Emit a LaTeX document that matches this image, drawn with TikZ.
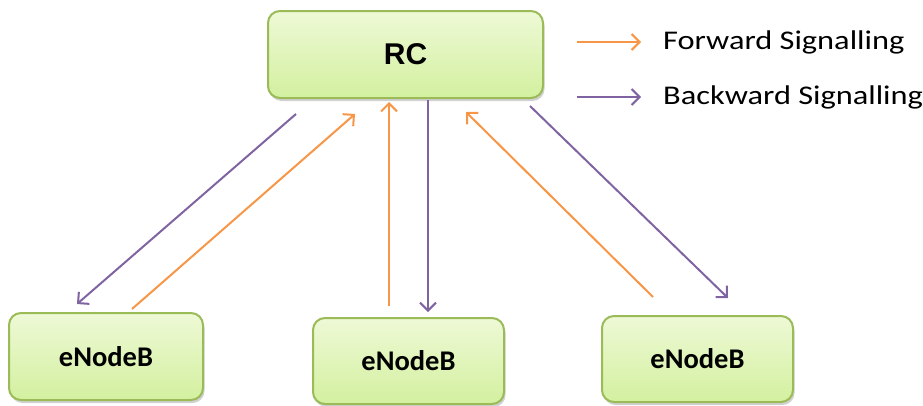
\documentclass[tikz,border=0pt]{standalone}
\usepackage{fontspec}
\setmainfont{Carlito}
\newfontfamily\arialfont{Liberation Sans}
\newfontfamily\legfont{Carlito}[FakeStretch=1.2]
\usetikzlibrary{arrows.meta,shadows}
\definecolor{fwd}{HTML}{F79646}
\definecolor{bwd}{HTML}{8064A2}
\definecolor{boxline}{HTML}{9BBB59}
\definecolor{boxtop}{HTML}{EEF9D6}
\definecolor{boxbot}{HTML}{D3F09F}
\tikzset{
  gbox/.style={rectangle, rounded corners=12pt, draw=boxline, line width=2pt,
    top color=boxtop, bottom color=boxbot, inner sep=0pt,
    drop shadow={shadow xshift=1.5pt, shadow yshift=-3pt, opacity=0.3, fill=black!60}},
  fsig/.style={draw=fwd, line width=2pt, -{Straight Barb[length=8pt,width=16pt,line width=2pt]}},
  bsig/.style={draw=bwd, line width=2pt, -{Straight Barb[length=8pt,width=16pt,line width=2pt]}},
  legtext/.style={anchor=west, inner sep=0pt, font=\legfont\fontsize{27}{32}\selectfont},
  boxtext/.style={font=\bfseries\fontsize{28.5}{32}\selectfont},
}
\begin{document}
\begin{tikzpicture}[x=1pt,y=-1pt]
\useasboundingbox (0,0) rectangle (923,405);
\node[gbox, minimum width=275pt, minimum height=87pt] (rc) at (405.5,54.5)
  {\arialfont\bfseries\fontsize{30}{34}\selectfont RC};
\node[gbox, boxtext, minimum width=194pt, minimum height=87pt] (enbL) at (106,356.5) {eNodeB};
\node[gbox, boxtext, minimum width=191pt, minimum height=86pt] (enbM) at (408.5,361) {eNodeB};
\node[gbox, boxtext, minimum width=191pt, minimum height=86pt] (enbR) at (697.5,359) {eNodeB};
% connector end points
\coordinate (b1s) at (296,114);  \coordinate (b1e) at (77,304);
\coordinate (f1s) at (132,309);  \coordinate (f1e) at (355,114);
\coordinate (f2s) at (389,306);  \coordinate (f2e) at (389,102);
\coordinate (b2s) at (428,100);  \coordinate (b2e) at (428,312);
\coordinate (f3s) at (653,297);  \coordinate (f3e) at (466,112);
\coordinate (b3s) at (530,106);  \coordinate (b3e) at (728,298);
\draw[bsig] (b1s) -- (b1e);
\draw[fsig] (f1s) -- (f1e);
\draw[fsig] (f2s) -- (f2e);
\draw[bsig] (b2s) -- (b2e);
\draw[fsig] (f3s) -- (f3e);
\draw[bsig] (b3s) -- (b3e);
% legend
\coordinate (lf1) at (577,42); \coordinate (lf2) at (641,42);
\coordinate (lb1) at (577,97); \coordinate (lb2) at (641,97);
\draw[fsig] (lf1) -- (lf2);
\draw[bsig] (lb1) -- (lb2);
\node[legtext] (lfwd) at (663,42) {Forward Signalling};
\node[legtext] (lbwd) at (663,97) {Backward Signalling};
\end{tikzpicture}
\end{document}
